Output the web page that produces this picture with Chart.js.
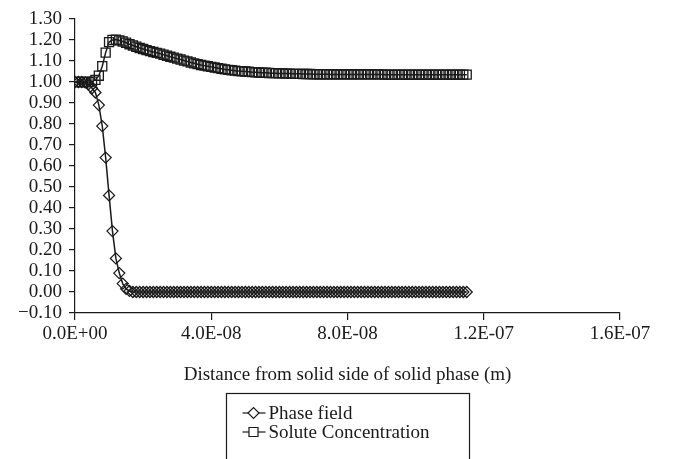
<!DOCTYPE html>
<html>
<head>
<meta charset="utf-8">
<script src="https://cdn.jsdelivr.net/npm/chart.js@4/dist/chart.umd.min.js"></script>
<style>
  body { margin: 0; background: #fff; }
</style>
</head>
<body>
<canvas id="profileChart" width="673" height="459"></canvas>
<script>
// sample spacing along the domain (m)
const distanceStep = 1e-9;

const phaseField = [
    1.000, 1.000, 1.000, 0.998, 0.990, 0.970, 0.950, 0.890, 0.790, 0.640,
    0.460, 0.290, 0.160, 0.090, 0.040, 0.015, 0.005, 0, 0, 0,
    0, 0, 0, 0, 0, 0, 0, 0, 0, 0,
    0, 0, 0, 0, 0, 0, 0, 0, 0, 0,
    0, 0, 0, 0, 0, 0, 0, 0, 0, 0,
    0, 0, 0, 0, 0, 0, 0, 0, 0, 0,
    0, 0, 0, 0, 0, 0, 0, 0, 0, 0,
    0, 0, 0, 0, 0, 0, 0, 0, 0, 0,
    0, 0, 0, 0, 0, 0, 0, 0, 0, 0,
    0, 0, 0, 0, 0, 0, 0, 0, 0, 0,
    0, 0, 0, 0, 0, 0, 0, 0, 0, 0,
    0, 0, 0, 0, 0, 0
];

const soluteConc = [
    1.000, 1.000, 1.000, 1.000, 1.000, 1.002, 1.010, 1.030, 1.075, 1.140,
    1.190, 1.200, 1.202, 1.198, 1.193, 1.187, 1.180, 1.174, 1.168, 1.162,
    1.157, 1.152, 1.147, 1.143, 1.139, 1.135, 1.130, 1.125, 1.120, 1.116,
    1.111, 1.107, 1.102, 1.098, 1.093, 1.089, 1.085, 1.081, 1.078, 1.075,
    1.072, 1.069, 1.066, 1.063, 1.060, 1.058, 1.056, 1.054, 1.052, 1.051,
    1.050, 1.049, 1.047, 1.046, 1.045, 1.044, 1.044, 1.043, 1.042, 1.042,
    1.041, 1.041, 1.040, 1.040, 1.039, 1.039, 1.039, 1.038, 1.038, 1.038,
    1.037, 1.037, 1.037, 1.037, 1.037, 1.036, 1.036, 1.036, 1.036, 1.036,
    1.036, 1.036, 1.036, 1.036, 1.036, 1.036, 1.036, 1.036, 1.036, 1.036,
    1.036, 1.035, 1.035, 1.035, 1.035, 1.035, 1.035, 1.035, 1.035, 1.035,
    1.035, 1.035, 1.035, 1.035, 1.035, 1.035, 1.035, 1.035, 1.035, 1.035,
    1.035, 1.035, 1.035, 1.035, 1.035, 1.035
];

const seriesLabels = ['Phase field', 'Solute Concentration'];
const xAxisTitle = 'Distance from solid side of solid phase (m)';

const distance = phaseField.map((_, i) => i * distanceStep);

const serif = "'Liberation Serif', 'Times New Roman', serif";
const ink = '#1a1a1a';

// 4e-8 -> "4.0E-08"
function sciLabel(v) {
    const parts = Number(v).toExponential(1).split('e');
    const n = parseInt(parts[1], 10);
    return parts[0] + 'E' + (n < 0 ? '-' : '+') + String(Math.abs(n)).padStart(2, '0');
}

function marker(ctx, style, x, y) {
    ctx.beginPath();
    if (style === 'rectRot') {
        const r = 5.5;
        ctx.moveTo(x - r, y);
        ctx.lineTo(x, y - r);
        ctx.lineTo(x + r, y);
        ctx.lineTo(x, y + r);
        ctx.closePath();
    } else {
        const s = 4.5;
        ctx.rect(x - s, y - s, 2 * s, 2 * s);
    }
    ctx.fillStyle = '#fff';
    ctx.fill();
    ctx.stroke();
}

// boxed legend under the axis title, items stacked
const boxLegend = {
    id: 'boxLegend',
    afterDraw(chart) {
        const ctx = chart.ctx;
        const area = chart.chartArea;
        const w = 243;
        const left = Math.round((area.left + area.right) / 2 - w / 2) + 0.5;
        const top = 393.5;
        ctx.save();
        ctx.strokeStyle = ink;
        ctx.lineWidth = 1.2;
        ctx.strokeRect(left, top, w, 90);
        ctx.font = '19px ' + serif;
        ctx.textBaseline = 'middle';
        chart.data.datasets.forEach((ds, i) => {
            const y = 413 + i * 19;
            ctx.beginPath();
            ctx.moveTo(left + 16, y);
            ctx.lineTo(left + 39, y);
            ctx.stroke();
            marker(ctx, ds.pointStyle, left + 27, y);
            ctx.fillStyle = ink;
            ctx.fillText(ds.label, left + 42, y + 1);
        });
        ctx.restore();
    }
};

const ctx = document.getElementById('profileChart').getContext('2d');
new Chart(ctx, {
    type: 'line',
    data: {
        datasets: [{
            label: seriesLabels[0],
            data: distance.map((x, i) => ({ x: x, y: phaseField[i] })),
            borderColor: ink,
            borderWidth: 1.5,
            pointStyle: 'rectRot',
            pointRadius: 5.5,
            pointBorderWidth: 1.3,
            pointBorderColor: ink,
            pointBackgroundColor: 'rgba(255,255,255,0)',
            tension: 0
        }, {
            label: seriesLabels[1],
            data: distance.map((x, i) => ({ x: x, y: soluteConc[i] })),
            borderColor: ink,
            borderWidth: 1.5,
            pointStyle: 'rect',
            pointRadius: 6.4,
            pointBorderWidth: 1.3,
            pointBorderColor: ink,
            pointBackgroundColor: 'rgba(255,255,255,0)',
            tension: 0
        }]
    },
    options: {
        responsive: false,
        animation: false,
        layout: {
            padding: { top: 19, right: 53, bottom: 73, left: 0 }
        },
        plugins: {
            legend: { display: false },
            tooltip: { enabled: false }
        },
        scales: {
            x: {
                type: 'linear',
                min: 0,
                max: 1.6e-7,
                grid: { drawOnChartArea: false, tickLength: 7, color: ink, lineWidth: 1.2 },
                border: { color: ink, width: 1.2 },
                ticks: {
                    stepSize: 4e-8,
                    autoSkip: false,
                    maxRotation: 0,
                    padding: 3,
                    color: ink,
                    font: { family: serif, size: 19 },
                    callback: v => sciLabel(v)
                },
                title: {
                    display: true,
                    text: xAxisTitle,
                    color: ink,
                    font: { family: serif, size: 19 },
                    padding: { top: 0, bottom: 0 }
                },
                afterFit: s => { s.height = 73; }
            },
            y: {
                min: -0.1,
                max: 1.3,
                grid: { drawOnChartArea: false, tickLength: 6, color: ink, lineWidth: 1.2 },
                border: { color: ink, width: 1.2 },
                ticks: {
                    stepSize: 0.1,
                    autoSkip: false,
                    padding: 7,
                    color: ink,
                    font: { family: serif, size: 19 },
                    callback: v => (v < -0.001 ? '\u2212' + Math.abs(v).toFixed(2) : Math.abs(v).toFixed(2))
                },
                afterFit: s => { s.width = 75; }
            }
        }
    },
    plugins: [boxLegend]
});
</script>
</body>
</html>
